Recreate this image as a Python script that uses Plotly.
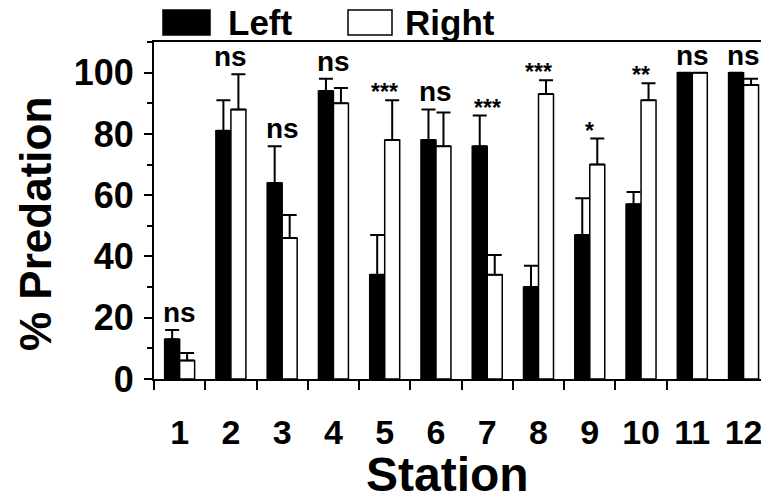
import plotly.graph_objects as go

# Predation per station, left vs right side (mean % with upper error)
stations = ["1", "2", "3", "4", "5", "6", "7", "8", "9", "10", "11", "12"]
left_mean = [13, 81, 64, 94, 34, 78, 76, 30, 47, 57, 100, 100]
left_err = [3, 10, 12, 4, 13, 10, 10, 7, 12, 4, 0, 0]
right_mean = [6, 88, 46, 90, 78, 76, 34, 93, 70, 91, 100, 96]
right_err = [2.5, 11.5, 7.5, 5, 13, 11, 6.5, 4.5, 8.5, 5.5, 0, 2]
significance = ["ns", "ns", "ns", "ns", "***", "ns", "***", "***", "*", "**", "ns", "ns"]
y_ticks = [0, 20, 40, 60, 80, 100]

FONT = "Liberation Sans, Arial, Helvetica, sans-serif"
xpos = list(range(len(stations)))
W, H = 761, 496
ML, MR, MT, MB = 154, 0, 42, 117

fig = go.Figure()
fig.add_trace(go.Bar(
    x=xpos, y=left_mean, name="Left",
    marker=dict(color="black", line=dict(color="black", width=1.5)),
    error_y=dict(type="data", symmetric=False, array=left_err,
                 arrayminus=[0] * len(left_err), color="black",
                 thickness=2, width=7),
))
fig.add_trace(go.Bar(
    x=xpos, y=right_mean, name="Right",
    marker=dict(color="white", line=dict(color="black", width=1.5)),
    error_y=dict(type="data", symmetric=False, array=right_err,
                 arrayminus=[0] * len(right_err), color="black",
                 thickness=2, width=7),
))

# significance markers above each station pair
for i, lab in enumerate(significance):
    top = max(left_mean[i] + left_err[i], right_mean[i] + right_err[i])
    stars = lab != "ns"
    fig.add_annotation(
        x=xpos[i], y=top, xref="x", yref="y", text=lab, showarrow=False,
        yanchor="bottom", yshift=-7 if stars else 0,
        font=dict(family=FONT, size=23 if stars else 28, color="black",
                  weight="bold"),
    )

# pixel -> paper helpers for the legend and axis titles
pw = W - ML - MR
ph = H - MT - MB


def px(x):
    return (x - ML) / pw


def py(y):
    return (H - MB - y) / ph


legend_items = [("Left", "black", 163, 210, 226), ("Right", "white", 348, 392, 403)]
for name, fill, x0, x1, tx in legend_items:
    fig.add_shape(type="rect", xref="paper", yref="paper",
                  x0=px(x0), x1=px(x1), y0=py(35), y1=py(10),
                  fillcolor=fill, line=dict(color="black", width=1.5))
    fig.add_annotation(x=px(tx), y=py(23), xref="paper", yref="paper",
                       text=name, showarrow=False, xanchor="left",
                       yanchor="middle",
                       font=dict(family=FONT, size=35, color="black",
                                 weight="bold"))

fig.add_annotation(x=px(447), y=py(474), xref="paper", yref="paper",
                   text="Station", showarrow=False, yanchor="middle",
                   font=dict(family=FONT, size=48, color="black",
                             weight="bold"))
fig.add_annotation(x=px(35), y=py(224), xref="paper", yref="paper",
                   text="% Predation", showarrow=False, textangle=-90,
                   xanchor="center", yanchor="middle",
                   font=dict(family=FONT, size=44, color="black",
                             weight="bold"))

fig.update_layout(
    width=W, height=H,
    margin=dict(l=ML, r=MR, t=MT, b=MB),
    paper_bgcolor="white", plot_bgcolor="white",
    barmode="group", bargap=0.415, bargroupgap=0,
    showlegend=False,
)
fig.update_xaxes(
    range=[-0.5, 11.34], tickmode="array", tickvals=xpos, ticktext=stations,
    ticks="", ticklabelstandoff=22, ticklabeloverflow="allow",
    tickfont=dict(family=FONT, size=34, color="black", weight="bold"),
    showline=True, linecolor="black", linewidth=2, mirror=True,
    showgrid=False, zeroline=False,
    minor=dict(tickmode="array", tickvals=[v - 0.5 for v in xpos[:-1]],
               ticks="outside", ticklen=9, tickwidth=2, tickcolor="black"),
)
fig.update_yaxes(
    range=[0, 110], tickmode="array", tickvals=y_ticks,
    ticks="outside", ticklen=8, tickwidth=2, tickcolor="black",
    ticklabelstandoff=3,
    tickfont=dict(family=FONT, size=36, color="black", weight="bold"),
    showline=True, linecolor="black", linewidth=2,
    showgrid=False, zeroline=False,
    minor=dict(dtick=10, ticks="outside", ticklen=5, tickwidth=2,
               tickcolor="black"),
)

fig.write_html("out.html")
